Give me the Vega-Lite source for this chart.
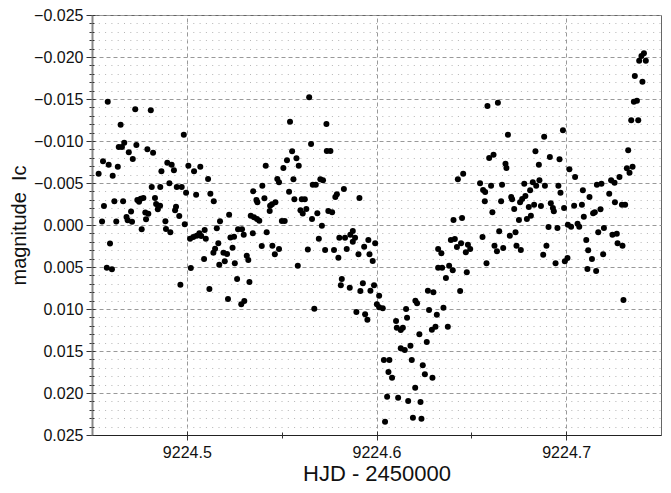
{
  "$schema": "https://vega.github.io/schema/vega-lite/v6.json",
  "width": 569,
  "height": 420,
  "autosize": {"type": "none"},
  "padding": {"left": 92, "top": 15, "right": 10, "bottom": 58},
  "background": "white",
  "config": {
    "view": {"stroke": "#666666", "strokeWidth": 1},
    "font": "Liberation Sans"
  },
  "data": {
    "values": [
      {"hjd": 9224.4535, "mag": -0.00611}, {"hjd": 9224.4553, "mag": -0.00042}, {"hjd": 9224.4558, "mag": -0.00758},
      {"hjd": 9224.4563, "mag": -0.00226}, {"hjd": 9224.4578, "mag": 0.00508}, {"hjd": 9224.4583, "mag": -0.01468},
      {"hjd": 9224.4588, "mag": -0.00718}, {"hjd": 9224.4595, "mag": 0.0022}, {"hjd": 9224.4605, "mag": 0.00527},
      {"hjd": 9224.4609, "mag": -0.00587}, {"hjd": 9224.4618, "mag": -0.00282}, {"hjd": 9224.4628, "mag": -0.00042},
      {"hjd": 9224.4636, "mag": -0.00694}, {"hjd": 9224.4641, "mag": -0.00929}, {"hjd": 9224.4651, "mag": -0.01194},
      {"hjd": 9224.4658, "mag": -0.00929}, {"hjd": 9224.4664, "mag": -0.00282}, {"hjd": 9224.467, "mag": -0.0098},
      {"hjd": 9224.4682, "mag": -0.00095}, {"hjd": 9224.4694, "mag": -0.00865}, {"hjd": 9224.4706, "mag": -0.00161},
      {"hjd": 9224.4688, "mag": -0.00056}, {"hjd": 9224.4711, "mag": -0.00039}, {"hjd": 9224.4715, "mag": -0.00786},
      {"hjd": 9224.4728, "mag": -0.01377}, {"hjd": 9224.4734, "mag": -0.00952}, {"hjd": 9224.4739, "mag": -0.00298},
      {"hjd": 9224.4748, "mag": -0.00277}, {"hjd": 9224.4757, "mag": -0.00313}, {"hjd": 9224.4771, "mag": -0.00321},
      {"hjd": 9224.4762, "mag": 0.00051}, {"hjd": 9224.4781, "mag": -0.00149}, {"hjd": 9224.4797, "mag": -0.00135},
      {"hjd": 9224.4785, "mag": -0.00068}, {"hjd": 9224.4792, "mag": -0.00901}, {"hjd": 9224.481, "mag": -0.01365},
      {"hjd": 9224.4815, "mag": -0.00452}, {"hjd": 9224.4822, "mag": -0.00861}, {"hjd": 9224.4832, "mag": -0.00321},
      {"hjd": 9224.4838, "mag": -0.0025}, {"hjd": 9224.485, "mag": -0.0023}, {"hjd": 9224.4847, "mag": -0.00187},
      {"hjd": 9224.4859, "mag": -0.0023}, {"hjd": 9224.486, "mag": -0.00452}, {"hjd": 9224.4866, "mag": -0.00639},
      {"hjd": 9224.4887, "mag": -0.00044}, {"hjd": 9224.489, "mag": 0.00048}, {"hjd": 9224.4897, "mag": -0.00742},
      {"hjd": 9224.4908, "mag": -0.00496}, {"hjd": 9224.4913, "mag": 0.00087}, {"hjd": 9224.492, "mag": -0.00718},
      {"hjd": 9224.4932, "mag": -0.00651}, {"hjd": 9224.4938, "mag": -0.00175}, {"hjd": 9224.4943, "mag": -0.00218},
      {"hjd": 9224.4947, "mag": -0.00452}, {"hjd": 9224.496, "mag": -0.00107}, {"hjd": 9224.4966, "mag": 0.00711},
      {"hjd": 9224.4973, "mag": -0.00452}, {"hjd": 9224.4984, "mag": -0.01075}, {"hjd": 9224.4989, "mag": -0.00008},
      {"hjd": 9224.4996, "mag": -0.00385}, {"hjd": 9224.5008, "mag": -0.00706}, {"hjd": 9224.5017, "mag": 0.00163},
      {"hjd": 9224.5021, "mag": 0.00512}, {"hjd": 9224.5034, "mag": 0.00143}, {"hjd": 9224.5038, "mag": -0.00639},
      {"hjd": 9224.5049, "mag": -0.00361}, {"hjd": 9224.5052, "mag": 0.00127}, {"hjd": 9224.5066, "mag": 0.00099},
      {"hjd": 9224.5071, "mag": -0.00694}, {"hjd": 9224.5076, "mag": 0.00131}, {"hjd": 9224.5091, "mag": 0.00405},
      {"hjd": 9224.5094, "mag": 0.0006}, {"hjd": 9224.51, "mag": 0.00163}, {"hjd": 9224.5112, "mag": -0.00548},
      {"hjd": 9224.5119, "mag": 0.00762}, {"hjd": 9224.5124, "mag": -0.00373}, {"hjd": 9224.514, "mag": 0.0033},
      {"hjd": 9224.5142, "mag": -0.00282}, {"hjd": 9224.5149, "mag": 0.00282}, {"hjd": 9224.5158, "mag": 0.00039},
      {"hjd": 9224.5166, "mag": 0.00218}, {"hjd": 9224.5171, "mag": 0.00473}, {"hjd": 9224.5175, "mag": -0.00044},
      {"hjd": 9224.5193, "mag": 0.0033}, {"hjd": 9224.52, "mag": 0.00432}, {"hjd": 9224.5212, "mag": 0.00345},
      {"hjd": 9224.5217, "mag": 0.00881}, {"hjd": 9224.5223, "mag": -0.00123}, {"hjd": 9224.523, "mag": 0.00149},
      {"hjd": 9224.5249, "mag": 0.00139}, {"hjd": 9224.5241, "mag": 0.00271}, {"hjd": 9224.5253, "mag": 0.00456},
      {"hjd": 9224.5265, "mag": 0.00643}, {"hjd": 9224.527, "mag": 0.00051}, {"hjd": 9224.5291, "mag": 0.00051},
      {"hjd": 9224.53, "mag": 0.00115}, {"hjd": 9224.5287, "mag": 0.00944}, {"hjd": 9224.5303, "mag": 0.00905},
      {"hjd": 9224.5316, "mag": 0.00365}, {"hjd": 9224.5324, "mag": 0.00417}, {"hjd": 9224.533, "mag": 0.00679},
      {"hjd": 9224.5337, "mag": -0.00111}, {"hjd": 9224.5348, "mag": 0.00099}, {"hjd": 9224.535, "mag": -0.00403},
      {"hjd": 9224.5354, "mag": -0.00092}, {"hjd": 9224.5367, "mag": -0.00298}, {"hjd": 9224.5372, "mag": -0.0027},
      {"hjd": 9224.537, "mag": -0.00071}, {"hjd": 9224.5382, "mag": -0.00051}, {"hjd": 9224.5395, "mag": 0.0025},
      {"hjd": 9224.5398, "mag": -0.00468}, {"hjd": 9224.5409, "mag": -0.00318}, {"hjd": 9224.5416, "mag": -0.00706},
      {"hjd": 9224.5421, "mag": 0.00087}, {"hjd": 9224.5437, "mag": -0.00167}, {"hjd": 9224.5439, "mag": -0.0023},
      {"hjd": 9224.5449, "mag": -0.00246}, {"hjd": 9224.5467, "mag": -0.0027}, {"hjd": 9224.5451, "mag": 0.00246},
      {"hjd": 9224.5464, "mag": 0.00349}, {"hjd": 9224.5477, "mag": -0.00548}, {"hjd": 9224.5486, "mag": 0.00286},
      {"hjd": 9224.5486, "mag": -0.00508}, {"hjd": 9224.5501, "mag": -0.00048}, {"hjd": 9224.5516, "mag": -0.00048},
      {"hjd": 9224.5509, "mag": -0.00679}, {"hjd": 9224.5528, "mag": -0.0077}, {"hjd": 9224.5539, "mag": -0.00396},
      {"hjd": 9224.5544, "mag": -0.0123}, {"hjd": 9224.5555, "mag": -0.00877}, {"hjd": 9224.5562, "mag": -0.00544},
      {"hjd": 9224.5567, "mag": -0.00306}, {"hjd": 9224.5578, "mag": -0.00794}, {"hjd": 9224.5585, "mag": 0.00485},
      {"hjd": 9224.559, "mag": -0.00706}, {"hjd": 9224.5599, "mag": -0.00175}, {"hjd": 9224.5606, "mag": -0.00306},
      {"hjd": 9224.5611, "mag": -0.00137}, {"hjd": 9224.5622, "mag": -0.00306}, {"hjd": 9224.563, "mag": -0.0019},
      {"hjd": 9224.5638, "mag": 0.00292}, {"hjd": 9224.5645, "mag": -0.0152}, {"hjd": 9224.5655, "mag": -0.00964},
      {"hjd": 9224.566, "mag": -0.00071}, {"hjd": 9224.5664, "mag": -0.0048}, {"hjd": 9224.5672, "mag": 0.00996},
      {"hjd": 9224.568, "mag": -0.0048}, {"hjd": 9224.5688, "mag": -0.00139}, {"hjd": 9224.5696, "mag": 0.00163},
      {"hjd": 9224.5704, "mag": -0.00544}, {"hjd": 9224.5712, "mag": 0.00008}, {"hjd": 9224.5718, "mag": -0.00532},
      {"hjd": 9224.5729, "mag": 0.00298}, {"hjd": 9224.5736, "mag": -0.01202}, {"hjd": 9224.5738, "mag": -0.00881},
      {"hjd": 9224.5757, "mag": -0.00881}, {"hjd": 9224.5746, "mag": -0.00167}, {"hjd": 9224.5766, "mag": -0.00151},
      {"hjd": 9224.5776, "mag": 0.00298}, {"hjd": 9224.5783, "mag": -0.00333}, {"hjd": 9224.5791, "mag": -0.00365},
      {"hjd": 9224.5799, "mag": 0.00389}, {"hjd": 9224.5804, "mag": 0.00151}, {"hjd": 9224.5812, "mag": 0.00718},
      {"hjd": 9224.5817, "mag": 0.00643}, {"hjd": 9224.5828, "mag": -0.00429}, {"hjd": 9224.5834, "mag": 0.00151},
      {"hjd": 9224.5843, "mag": 0.00286}, {"hjd": 9224.5859, "mag": 0.00746}, {"hjd": 9224.5862, "mag": 0.00115},
      {"hjd": 9224.5875, "mag": 0.00071}, {"hjd": 9224.5887, "mag": 0.00151}, {"hjd": 9224.5875, "mag": 0.00199},
      {"hjd": 9224.5894, "mag": 0.01036}, {"hjd": 9224.5905, "mag": 0.00349}, {"hjd": 9224.591, "mag": -0.00321},
      {"hjd": 9224.5915, "mag": 0.00786}, {"hjd": 9224.5928, "mag": 0.00694}, {"hjd": 9224.5935, "mag": 0.00258},
      {"hjd": 9224.594, "mag": 0.01063}, {"hjd": 9224.5952, "mag": 0.01127}, {"hjd": 9224.5957, "mag": 0.00179},
      {"hjd": 9224.5963, "mag": 0.00349}, {"hjd": 9224.5968, "mag": 0.00782}, {"hjd": 9224.598, "mag": 0.00429},
      {"hjd": 9224.5987, "mag": 0.00718}, {"hjd": 9224.5993, "mag": 0.00218}, {"hjd": 9224.6002, "mag": 0.00944},
      {"hjd": 9224.6014, "mag": 0.00842}, {"hjd": 9224.6014, "mag": 0.0098}, {"hjd": 9224.6033, "mag": 0.00992},
      {"hjd": 9224.6039, "mag": 0.01607}, {"hjd": 9224.6045, "mag": 0.02342}, {"hjd": 9224.6056, "mag": 0.02044},
      {"hjd": 9224.6063, "mag": 0.0175}, {"hjd": 9224.6068, "mag": 0.01607}, {"hjd": 9224.6082, "mag": 0.01818},
      {"hjd": 9224.6103, "mag": 0.01143}, {"hjd": 9224.6107, "mag": 0.01223}, {"hjd": 9224.6114, "mag": 0.02056},
      {"hjd": 9224.6128, "mag": 0.01468}, {"hjd": 9224.6128, "mag": 0.0125}, {"hjd": 9224.6139, "mag": 0.01223},
      {"hjd": 9224.6149, "mag": 0.01488}, {"hjd": 9224.6156, "mag": 0.01}, {"hjd": 9224.6161, "mag": 0.01104},
      {"hjd": 9224.6167, "mag": 0.02095}, {"hjd": 9224.6179, "mag": 0.01437}, {"hjd": 9224.6186, "mag": 0.01607},
      {"hjd": 9224.6192, "mag": 0.02294}, {"hjd": 9224.6204, "mag": 0.01937}, {"hjd": 9224.6205, "mag": 0.00901},
      {"hjd": 9224.6214, "mag": 0.00932}, {"hjd": 9224.6226, "mag": 0.01301}, {"hjd": 9224.6232, "mag": 0.02107},
      {"hjd": 9224.6237, "mag": 0.02306}, {"hjd": 9224.6244, "mag": 0.0167}, {"hjd": 9224.6255, "mag": 0.01777},
      {"hjd": 9224.6265, "mag": 0.01393}, {"hjd": 9224.6271, "mag": 0.00782}, {"hjd": 9224.6277, "mag": 0.01012},
      {"hjd": 9224.6292, "mag": 0.01246}, {"hjd": 9224.6295, "mag": 0.01818}, {"hjd": 9224.63, "mag": 0.00801},
      {"hjd": 9224.6311, "mag": 0.01211}, {"hjd": 9224.6318, "mag": 0.01068}, {"hjd": 9224.6325, "mag": 0.00508},
      {"hjd": 9224.6325, "mag": 0.00286}, {"hjd": 9224.6342, "mag": 0.00337}, {"hjd": 9224.6346, "mag": 0.00508},
      {"hjd": 9224.6353, "mag": 0.00985}, {"hjd": 9224.6366, "mag": 0.00631}, {"hjd": 9224.6376, "mag": 0.01211},
      {"hjd": 9224.6383, "mag": 0.00485}, {"hjd": 9224.6392, "mag": 0.00179}, {"hjd": 9224.6402, "mag": 0.00539},
      {"hjd": 9224.6406, "mag": -0.0006}, {"hjd": 9224.6413, "mag": 0.00167}, {"hjd": 9224.6424, "mag": 0.00262},
      {"hjd": 9224.6429, "mag": -0.00544}, {"hjd": 9224.6441, "mag": 0.00786}, {"hjd": 9224.6446, "mag": 0.00218},
      {"hjd": 9224.6451, "mag": -0.00083}, {"hjd": 9224.6457, "mag": -0.00611}, {"hjd": 9224.6471, "mag": 0.00325},
      {"hjd": 9224.6476, "mag": 0.00563}, {"hjd": 9224.6482, "mag": 0.00235}, {"hjd": 9224.6494, "mag": 0.00286},
      {"hjd": 9224.6546, "mag": -0.00496}, {"hjd": 9224.6559, "mag": 0.00143}, {"hjd": 9224.6562, "mag": -0.00417},
      {"hjd": 9224.6573, "mag": -0.00393}, {"hjd": 9224.6571, "mag": -0.00282}, {"hjd": 9224.658, "mag": 0.00456},
      {"hjd": 9224.6585, "mag": -0.01417}, {"hjd": 9224.6594, "mag": -0.00798}, {"hjd": 9224.6604, "mag": -0.00468},
      {"hjd": 9224.6611, "mag": -0.00151}, {"hjd": 9224.6617, "mag": -0.00837}, {"hjd": 9224.6622, "mag": 0.00246},
      {"hjd": 9224.6635, "mag": 0.00313}, {"hjd": 9224.664, "mag": -0.01456}, {"hjd": 9224.6647, "mag": 0.00075},
      {"hjd": 9224.6657, "mag": -0.00282}, {"hjd": 9224.6662, "mag": -0.0048}, {"hjd": 9224.6668, "mag": 0.00274},
      {"hjd": 9224.668, "mag": -0.0073}, {"hjd": 9224.6685, "mag": -0.00679}, {"hjd": 9224.6693, "mag": -0.01075},
      {"hjd": 9224.6703, "mag": 0.00127}, {"hjd": 9224.671, "mag": -0.00333}, {"hjd": 9224.6715, "mag": -0.00306},
      {"hjd": 9224.6726, "mag": -0.0019}, {"hjd": 9224.6733, "mag": 0.00087}, {"hjd": 9224.6738, "mag": 0.00246},
      {"hjd": 9224.6751, "mag": -0.0006}, {"hjd": 9224.6757, "mag": -0.0027}, {"hjd": 9224.6761, "mag": 0.00298},
      {"hjd": 9224.6768, "mag": -0.0031}, {"hjd": 9224.6779, "mag": -0.00492}, {"hjd": 9224.6785, "mag": -0.00345},
      {"hjd": 9224.6793, "mag": -0.00071}, {"hjd": 9224.6803, "mag": -0.00214}, {"hjd": 9224.681, "mag": -0.00413},
      {"hjd": 9224.6814, "mag": -0.00111}, {"hjd": 9224.6824, "mag": -0.00508}, {"hjd": 9224.6831, "mag": -0.00242},
      {"hjd": 9224.6838, "mag": -0.00877}, {"hjd": 9224.6842, "mag": -0.00468}, {"hjd": 9224.6856, "mag": -0.00718},
      {"hjd": 9224.6859, "mag": -0.00532}, {"hjd": 9224.6867, "mag": -0.00226}, {"hjd": 9224.6879, "mag": 0.00354},
      {"hjd": 9224.6884, "mag": -0.01051}, {"hjd": 9224.6888, "mag": -0.00468}, {"hjd": 9224.6896, "mag": 0.00246},
      {"hjd": 9224.6907, "mag": 0.00024}, {"hjd": 9224.6914, "mag": -0.0081}, {"hjd": 9224.6919, "mag": -0.00258},
      {"hjd": 9224.693, "mag": -0.00202}, {"hjd": 9224.6935, "mag": -0.00163}, {"hjd": 9224.6944, "mag": 0.00456},
      {"hjd": 9224.6954, "mag": 0.00036}, {"hjd": 9224.6959, "mag": -0.00468}, {"hjd": 9224.6965, "mag": -0.00782},
      {"hjd": 9224.697, "mag": -0.00385}, {"hjd": 9224.6983, "mag": -0.01127}, {"hjd": 9224.6989, "mag": -0.00202},
      {"hjd": 9224.6993, "mag": 0.00432}, {"hjd": 9224.7007, "mag": 0.00393}, {"hjd": 9224.7009, "mag": -0.00004},
      {"hjd": 9224.7017, "mag": -0.00663}, {"hjd": 9224.7026, "mag": 0.0002}, {"hjd": 9224.7042, "mag": -0.0023},
      {"hjd": 9224.7047, "mag": -0.00571}, {"hjd": 9224.706, "mag": -0.00015}, {"hjd": 9224.7069, "mag": 0.0002},
      {"hjd": 9224.7083, "mag": -0.00242}, {"hjd": 9224.7088, "mag": -0.00413}, {"hjd": 9224.7093, "mag": -0.00099},
      {"hjd": 9224.7106, "mag": 0.00179}, {"hjd": 9224.7112, "mag": 0.00524}, {"hjd": 9224.7116, "mag": 0.00301},
      {"hjd": 9224.7123, "mag": -0.00333}, {"hjd": 9224.7136, "mag": 0.00405}, {"hjd": 9224.7142, "mag": -0.00139},
      {"hjd": 9224.7151, "mag": -0.00151}, {"hjd": 9224.7158, "mag": 0.00548}, {"hjd": 9224.7162, "mag": -0.0048},
      {"hjd": 9224.7169, "mag": 0.00087}, {"hjd": 9224.7181, "mag": -0.00187}, {"hjd": 9224.7186, "mag": -0.00492},
      {"hjd": 9224.7195, "mag": 0.00349}, {"hjd": 9224.7199, "mag": 0.00036}, {"hjd": 9224.7227, "mag": -0.00373},
      {"hjd": 9224.7237, "mag": -0.00532}, {"hjd": 9224.7244, "mag": 0.00115}, {"hjd": 9224.7255, "mag": -0.00504},
      {"hjd": 9224.7257, "mag": -0.0027}, {"hjd": 9224.7267, "mag": 0.00104}, {"hjd": 9224.7271, "mag": 0.00218},
      {"hjd": 9224.7281, "mag": -0.00571}, {"hjd": 9224.7294, "mag": -0.00242}, {"hjd": 9224.7297, "mag": 0.00246},
      {"hjd": 9224.7302, "mag": 0.00893}, {"hjd": 9224.7311, "mag": -0.00242}, {"hjd": 9224.732, "mag": -0.00675},
      {"hjd": 9224.7327, "mag": -0.00889}, {"hjd": 9224.7334, "mag": -0.00623}, {"hjd": 9224.7343, "mag": -0.01246},
      {"hjd": 9224.735, "mag": -0.00694}, {"hjd": 9224.7357, "mag": -0.01468}, {"hjd": 9224.7362, "mag": -0.01774},
      {"hjd": 9224.7373, "mag": -0.0148}, {"hjd": 9224.738, "mag": -0.01246}, {"hjd": 9224.7385, "mag": -0.01956},
      {"hjd": 9224.7397, "mag": -0.02012}, {"hjd": 9224.7402, "mag": -0.01706}, {"hjd": 9224.741, "mag": -0.02044},
      {"hjd": 9224.742, "mag": -0.01956}
    ]
  },
  "layer": [
    {
      "mark": {"type": "point", "filled": true, "color": "#000000", "opacity": 1, "size": 36},
      "encoding": {
        "x": {
          "field": "hjd",
          "type": "quantitative",
          "scale": {"domain": [9224.45, 9224.75], "nice": false, "zero": false},
          "axis": {
            "title": "HJD - 2450000",
            "values": [9224.5, 9224.55, 9224.6, 9224.65, 9224.7],
            "grid": true,
            "gridColor": "#999999",
            "gridDash": [4, 3],
            "gridWidth": 1,
            "gridOpacity": {"condition": {"test": "abs(datum.value * 10 - round(datum.value * 10)) < 1e-6", "value": 1}, "value": 0},
            "tickSize": {"condition": {"test": "abs(datum.value * 10 - round(datum.value * 10)) < 1e-6", "value": 5}, "value": 3},
            "tickColor": "#333333",
            "labelExpr": "abs(datum.value * 10 - round(datum.value * 10)) < 1e-6 ? format(datum.value, '.1f') : ''",
            "labelFontSize": 16,
            "labelColor": "#111111",
            "labelPadding": 4,
            "labelFlush": false,
            "labelOverlap": false,
            "domainColor": "#222222",
            "domainWidth": 1,
            "titleFontSize": 22,
            "titleFontWeight": "normal",
            "titleColor": "#111111",
            "titlePadding": 3
          }
        },
        "y": {
          "field": "mag",
          "type": "quantitative",
          "scale": {"domain": [-0.025, 0.025], "reverse": true, "nice": false, "zero": false},
          "axis": {
            "title": "magnitude\u00a0 Ic",
            "values": [-0.025, -0.024, -0.023, -0.022, -0.021, -0.02, -0.019, -0.018, -0.017, -0.016, -0.015, -0.014, -0.013, -0.012, -0.011, -0.01, -0.009, -0.008, -0.007, -0.006, -0.005, -0.004, -0.003, -0.002, -0.001, 0, 0.001, 0.002, 0.003, 0.004, 0.005, 0.006, 0.007, 0.008, 0.009, 0.01, 0.011, 0.012, 0.013, 0.014, 0.015, 0.016, 0.017, 0.018, 0.019, 0.02, 0.021, 0.022, 0.023, 0.024, 0.025],
            "grid": true,
            "gridWidth": 1,
            "gridColor": {"condition": {"test": "abs(datum.value * 200 - round(datum.value * 200)) < 1e-6", "value": "#999999"}, "value": "#b5b5b5"},
            "gridDash": {"condition": {"test": "abs(datum.value * 200 - round(datum.value * 200)) < 1e-6", "value": [4, 3]}, "value": [1, 5.3]},
            "tickSize": {"condition": {"test": "abs(datum.value * 200 - round(datum.value * 200)) < 1e-6", "value": 6}, "value": 3},
            "tickColor": "#333333",
            "labelExpr": "abs(datum.value * 200 - round(datum.value * 200)) < 1e-6 ? format(datum.value, '.3f') : ''",
            "labelFontSize": 16,
            "labelColor": "#111111",
            "labelPadding": 3,
            "labelOverlap": false,
            "labelBound": false,
            "domainColor": "#888888",
            "domainWidth": 2,
            "titleFontSize": 20,
            "titleFontWeight": "normal",
            "titleColor": "#111111",
            "titlePadding": 4
          }
        }
      }
    },
    {
      "mark": {"type": "point", "opacity": 0},
      "encoding": {
        "x": {
          "field": "hjd",
          "type": "quantitative",
          "scale": {"domain": [9224.45, 9224.75], "nice": false, "zero": false},
          "axis": {
            "orient": "bottom",
            "title": null,
            "values": [9224.5, 9224.55, 9224.6, 9224.65, 9224.7],
            "grid": false,
            "labels": false,
            "domain": false,
            "tickColor": "#333333",
            "tickSize": {"condition": {"test": "abs(datum.value * 10 - round(datum.value * 10)) < 1e-6", "value": -4}, "value": -3}
          }
        },
        "y": {
          "field": "mag",
          "type": "quantitative",
          "scale": {"domain": [-0.025, 0.025], "reverse": true, "nice": false, "zero": false},
          "axis": {
            "orient": "left",
            "title": null,
            "values": [-0.025, -0.024, -0.023, -0.022, -0.021, -0.02, -0.019, -0.018, -0.017, -0.016, -0.015, -0.014, -0.013, -0.012, -0.011, -0.01, -0.009, -0.008, -0.007, -0.006, -0.005, -0.004, -0.003, -0.002, -0.001, 0, 0.001, 0.002, 0.003, 0.004, 0.005, 0.006, 0.007, 0.008, 0.009, 0.01, 0.011, 0.012, 0.013, 0.014, 0.015, 0.016, 0.017, 0.018, 0.019, 0.02, 0.021, 0.022, 0.023, 0.024, 0.025],
            "grid": false,
            "labels": false,
            "domain": false,
            "tickColor": "#333333",
            "tickSize": {"condition": {"test": "abs(datum.value * 200 - round(datum.value * 200)) < 1e-6", "value": -3}, "value": -2}
          }
        }
      }
    }
  ],
  "resolve": {"scale": {"x": "independent", "y": "independent"}}
}
